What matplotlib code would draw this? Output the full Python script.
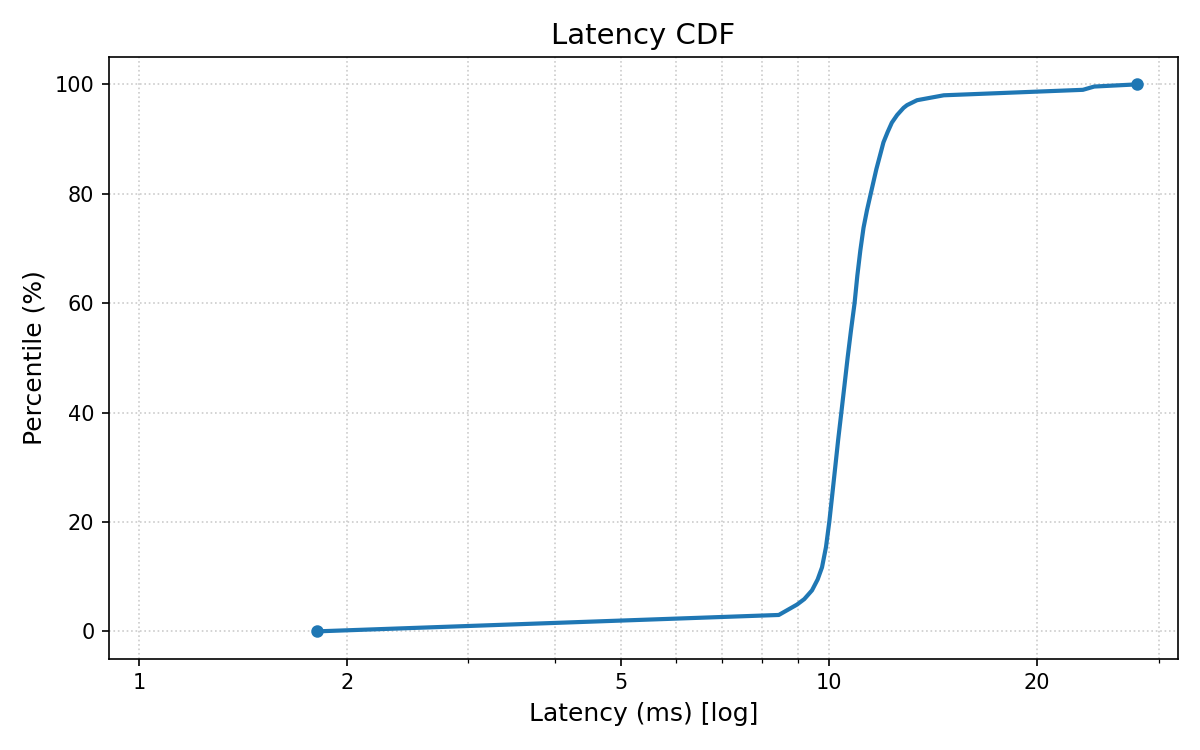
import matplotlib
matplotlib.use("Agg")
import matplotlib.pyplot as plt
from matplotlib.ticker import ScalarFormatter, NullFormatter

# Latency (ms) at each percentile
latency_ms = [1.81, 8.45, 8.98, 9.20, 9.44, 9.62, 9.76, 9.89, 10.0, 10.10,
              10.20, 10.30, 10.41, 10.52, 10.63, 10.75, 10.88, 10.98, 11.09,
              11.21, 11.34, 11.53, 11.70, 11.86, 11.98, 12.15, 12.32, 12.54,
              12.81, 12.96, 13.40, 14.65, 23.3, 24.2, 27.95]
percentile = [0, 3, 4.9, 5.9, 7.5, 9.5, 11.7, 15.4, 20, 25,
              30, 35, 40, 45, 50, 55, 60, 65, 69.6,
              73.8, 77, 81, 84.5, 87.3, 89.4, 91.3, 93.0, 94.4,
              95.7, 96.2, 97.1, 98, 99, 99.6, 100]
x_ticks = [1, 2, 5, 10, 20]

fig, ax = plt.subplots(figsize=(8, 5), dpi=150)
fig.subplots_adjust(left=0.0908, right=0.9817, top=0.924, bottom=0.1217)

ax.plot(latency_ms, percentile, color="#1f77b4", linewidth=2,
        marker="o", markersize=5, markevery=[0, len(latency_ms) - 1])

ax.set_xscale("log")
ax.set_xlim(0.905, 32.0)
ax.set_ylim(-5, 105)
ax.set_xticks(x_ticks)
ax.xaxis.set_major_formatter(ScalarFormatter())
ax.xaxis.set_minor_formatter(NullFormatter())

ax.grid(True, which="both", linestyle=":", color="#cccccc", linewidth=0.8)

ax.set_title("Latency CDF", fontsize=14)
ax.set_xlabel("Latency (ms) [log]", fontsize=12)
ax.set_ylabel("Percentile (%)", fontsize=12)
ax.tick_params(labelsize=10)

fig.savefig("out.png", dpi=150)
